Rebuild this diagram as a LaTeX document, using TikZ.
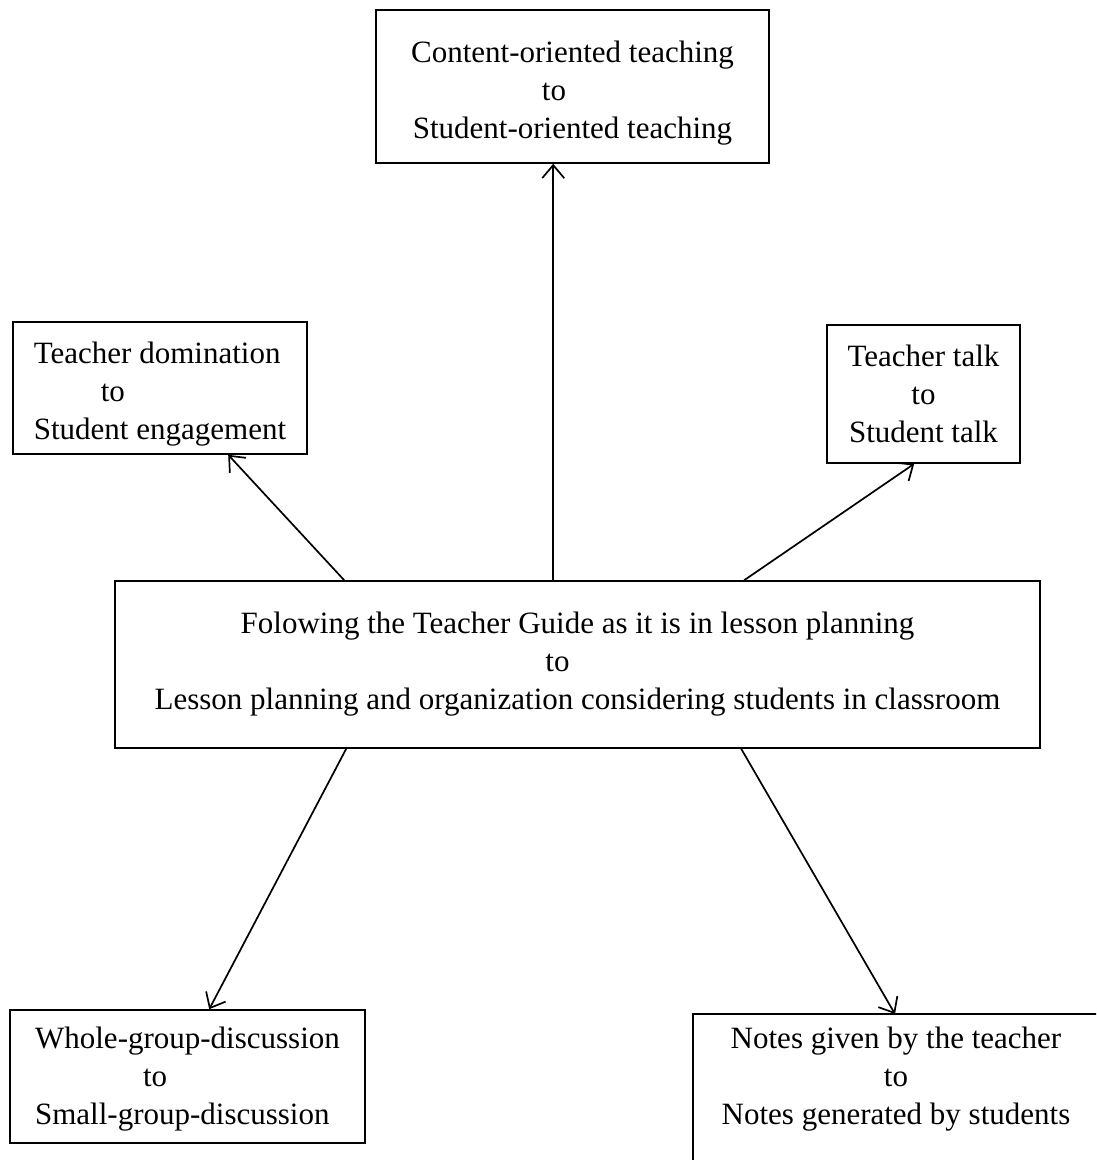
\documentclass[tikz,border=0pt]{standalone}
\usepackage{fontspec}
\setmainfont{Liberation Serif}
\usetikzlibrary{arrows.meta}
\begin{document}
\begin{tikzpicture}[x=1pt,y=-1pt,font=\fontsize{31}{38}\selectfont,
 box/.style={draw,line width=1.6pt,inner sep=0pt},
 arr/.style={line width=1.7pt,-{Straight Barb[length=13pt,width=22pt,line width=1.7pt]}}]
\useasboundingbox (0,0) rectangle (1096,1160);
\clip (0,0) rectangle (1096,1160);
% boxes
\node[box,align=center,minimum width=393pt,minimum height=153pt] (shift) at (572.5,86.5) {\rule{0pt}{35pt}Content-oriented teaching\\\hspace*{-37pt}to\\Student-oriented teaching};
\node[box,align=left,minimum width=294pt,minimum height=132pt] (dom) at (160,388) {\rule{0pt}{33pt}Teacher domination\\\hspace*{67pt}to\\Student engagement};
\node[box,align=center,minimum width=193pt,minimum height=138pt] (talk) at (923.5,394) {Teacher talk\\to\\Student talk};
\node[box,align=center,minimum width=925pt,minimum height=167pt] (guide) at (577.5,664.5) {Folowing the Teacher Guide as it is in lesson planning\\\hspace*{-40pt}to\\Lesson planning and organization considering students in classroom};
\node[box,align=left,minimum width=355pt,minimum height=133pt] (group) at (187.5,1076.5) {\rule{0pt}{26pt}Whole-group-discussion\\\hspace*{108pt}to\\Small-group-discussion};
\node[align=center] (notes) at (896,1079) {Notes given by the teacher\\to\\Notes generated by students};
\draw[line width=1.6pt] (693,1180) |- (1110,1014);
\coordinate (notestop) at (895,1014);
% arrows
\draw[arr] ([xshift=439pt]guide.north west) -- ([xshift=178pt]shift.south west);
\draw[arr] ([xshift=230pt]guide.north west) -- ([xshift=216pt]dom.south west);
\draw[arr] ([xshift=630pt]guide.north west) -- ([xshift=88pt]talk.south west);
\draw[arr] ([xshift=232pt]guide.south west) -- ([xshift=200pt]group.north west);
\draw[arr] ([xshift=627pt]guide.south west) -- (notestop);
\end{tikzpicture}
\end{document}
